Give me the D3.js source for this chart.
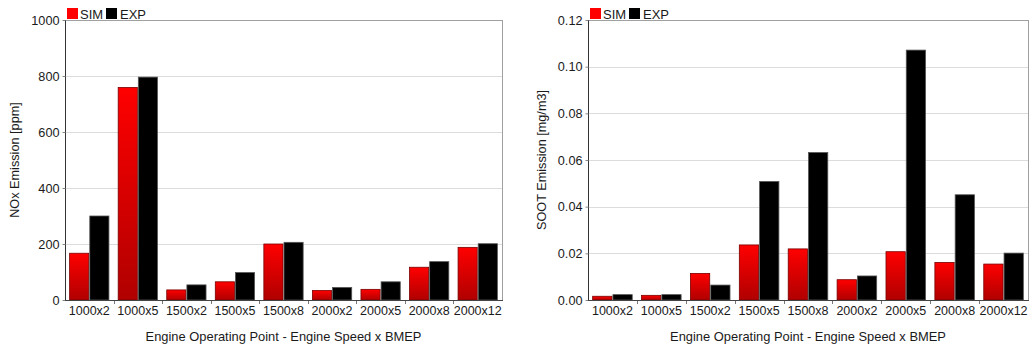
<!DOCTYPE html>
<html>
<head>
<meta charset="utf-8">
<script src="https://cdn.jsdelivr.net/npm/d3@7"></script>
<style>
  html, body { margin: 0; padding: 0; background: #fff; }
  svg { display: block; font-family: "Liberation Sans", Arial, sans-serif; }
</style>
</head>
<body>
<svg id="chart" width="1032" height="347"></svg>
<script>
// ---- data ----
const categories = ["1000x2", "1000x5", "1500x2", "1500x5", "1500x8", "2000x2", "2000x5", "2000x8", "2000x12"];
const seriesNames = ["SIM", "EXP"];
const noxSim = [167, 759, 36, 65, 200, 34, 38, 117, 188];
const noxExp = [300, 796, 54, 98, 206, 45, 65, 137, 201];
const sootSim = [0.0016, 0.0020, 0.0114, 0.0236, 0.0219, 0.0087, 0.0207, 0.0161, 0.0154];
const sootExp = [0.0023, 0.0023, 0.0064, 0.0508, 0.0632, 0.0103, 0.1071, 0.0451, 0.0201];
const noxTicks = [0, 200, 400, 600, 800, 1000];
const sootTicks = [0, 0.02, 0.04, 0.06, 0.08, 0.10, 0.12];
const xTitle = "Engine Operating Point - Engine Speed x BMEP";
const noxTitle = "NOx Emission [ppm]";
const sootTitle = "SOOT Emission [mg/m3]";

const svg = d3.select("#chart");
const defs = svg.append("defs");
const grad = defs.append("linearGradient").attr("id", "redGrad")
  .attr("x1", 0).attr("y1", 0).attr("x2", 0).attr("y2", 1);
grad.append("stop").attr("offset", "0%").attr("stop-color", "#ff0000");
grad.append("stop").attr("offset", "100%").attr("stop-color", "#b00000");

const colors = { SIM: "url(#redGrad)", EXP: "#000000" };
const strokes = { SIM: "#7a0000", EXP: "#555555" };

function drawPanel(opt) {
  const { x0px, x1px, y0px, y1px, sim, exp, ticks, fmt, yTitle, yTitleX } = opt;
  const g = svg.append("g");
  const y = d3.scaleLinear().domain([ticks[0], ticks[ticks.length - 1]]).range([y1px, y0px]);
  const x = d3.scaleBand().domain(categories).range([x0px, x1px])
    .paddingInner(0.17).paddingOuter(0.085);
  const xs = d3.scaleBand().domain(seriesNames).range([0, x.bandwidth()]);

  // gridlines
  g.append("g").selectAll("line").data(ticks.slice(1, -1)).join("line")
    .attr("x1", x0px).attr("x2", x1px)
    .attr("y1", d => Math.round(y(d)) + 0.5).attr("y2", d => Math.round(y(d)) + 0.5)
    .attr("stroke", "#dcdcdc").attr("stroke-width", 1);

  // border top & right
  g.append("line").attr("x1", x0px).attr("x2", x1px + 0.5).attr("y1", y0px + 0.5).attr("y2", y0px + 0.5)
    .attr("stroke", "#a0a0a0");
  g.append("line").attr("x1", x1px + 0.5).attr("x2", x1px + 0.5).attr("y1", y0px).attr("y2", y1px)
    .attr("stroke", "#a0a0a0");

  // bars
  const rows = categories.map((c, i) => ({ cat: c, SIM: sim[i], EXP: exp[i] }));
  const groups = g.append("g").selectAll("g").data(rows).join("g")
    .attr("transform", d => `translate(${x(d.cat)},0)`);
  groups.selectAll("rect").data(d => seriesNames.map(s => ({ s, v: d[s] }))).join("rect")
    .attr("x", d => xs(d.s) + 0.5)
    .attr("width", xs.bandwidth() - 1)
    .attr("y", d => y(d.v))
    .attr("height", d => y1px - y(d.v))
    .attr("fill", d => colors[d.s])
    .attr("stroke", d => strokes[d.s])
    .attr("stroke-width", 0.8);

  // y axis
  const yAxis = d3.axisLeft(y).tickValues(ticks).tickFormat(d3.format(fmt)).tickSize(3).tickPadding(3);
  const ya = g.append("g").attr("transform", `translate(${x0px + 0.5},0)`).call(yAxis);
  ya.select(".domain").attr("stroke", "#333").attr("d", `M0,${y0px}V${y1px}`);
  ya.selectAll(".tick line").attr("stroke", "#888");
  ya.selectAll("text").attr("font-size", 12.7).attr("fill", "#1a1a1a")
    .attr("font-family", "Liberation Sans, Arial, sans-serif");

  // x axis
  const xAxis = d3.axisBottom(x).tickSize(0).tickPadding(6);
  const xa = g.append("g").attr("transform", `translate(0,${y1px + 0.5})`).call(xAxis);
  xa.select(".domain").attr("stroke", "#444").attr("d", `M${x0px},0H${x1px + 1}`);
  xa.selectAll("text").attr("font-size", 12.5).attr("fill", "#1a1a1a")
    .attr("font-family", "Liberation Sans, Arial, sans-serif");
  // boundary ticks
  const half = x.step() * x.paddingInner() / 2;
  g.append("g").selectAll("line").data(categories.slice(1)).join("line")
    .attr("x1", d => Math.round(x(d) - half) + 0.5).attr("x2", d => Math.round(x(d) - half) + 0.5)
    .attr("y1", y1px + 1).attr("y2", y1px + 4)
    .attr("stroke", "#777");

  // titles
  g.append("text").attr("x", (x0px + x1px) / 2).attr("y", 341)
    .attr("text-anchor", "middle").attr("font-size", 12.9).attr("fill", "#1a1a1a").text(xTitle);
  g.append("text").attr("transform", `translate(${yTitleX},${(y0px + y1px) / 2}) rotate(-90)`)
    .attr("text-anchor", "middle").attr("font-size", 12.7).attr("fill", "#1a1a1a").text(yTitle);

  // legend
  const lg = g.append("g").attr("transform", `translate(${x0px},0)`);
  const items = [{ s: "SIM", rx: 2, tx: 15 }, { s: "EXP", rx: 41, tx: 55 }];
  items.forEach(it => {
    lg.append("rect").attr("x", it.rx).attr("y", 8).attr("width", 11).attr("height", 11)
      .attr("fill", it.s === "SIM" ? "#ff0000" : "#000");
    lg.append("text").attr("x", it.tx).attr("y", 18.5).attr("font-size", 13).attr("fill", "#1a1a1a").text(it.s);
  });
}

drawPanel({ x0px: 65, x1px: 502, y0px: 20, y1px: 300, sim: noxSim, exp: noxExp,
  ticks: noxTicks, fmt: "d", yTitle: noxTitle, yTitleX: 19 });
drawPanel({ x0px: 588, x1px: 1028, y0px: 20, y1px: 300, sim: sootSim, exp: sootExp,
  ticks: sootTicks, fmt: ".2f", yTitle: sootTitle, yTitleX: 546 });
</script>
</body>
</html>
